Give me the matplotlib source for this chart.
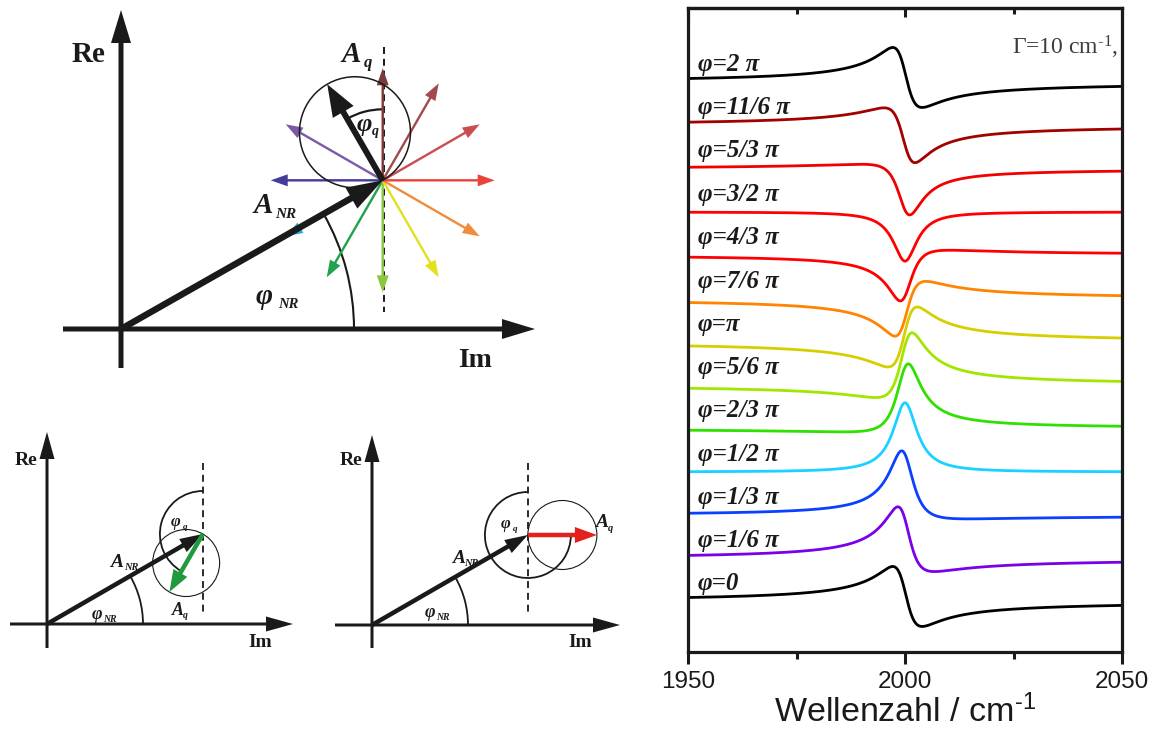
import numpy as np
import matplotlib
matplotlib.use("Agg")
import matplotlib.pyplot as plt
from matplotlib.patches import FancyArrow, Circle, Arc
from matplotlib.ticker import FixedLocator

plt.rcParams["mathtext.default"] = "regular"
plt.rcParams["lines.scale_dashes"] = False

# ---------------------------------------------------------------- spectra data
phase_over_pi = [0, 1/6, 1/3, 1/2, 2/3, 5/6, 1, 7/6, 4/3, 3/2, 5/3, 11/6, 2]
phase_labels = ["φ=0", "φ=1/6 π", "φ=1/3 π", "φ=1/2 π", "φ=2/3 π", "φ=5/6 π",
                "φ=π", "φ=7/6 π", "φ=4/3 π", "φ=3/2 π", "φ=5/3 π", "φ=11/6 π",
                "φ=2 π"]
curve_offsets = [50.5, 93, 136.5, 180, 223.5, 267, 310, 353, 397, 440, 483,
                 526.5, 569.5]
curve_colors = ["#000000", "#7a00ea", "#0a40ff", "#1ad2ff", "#30e000", "#a2e600",
                "#d6cf00", "#ff8400", "#ff0000", "#ff0000", "#f20000", "#a30000",
                "#000000"]

# resonance parameters (single Lorentzian mode on a non-resonant background)
center_cm = 2000.0
half_width_cm = 3.35
amp_nr = 1.0
amp_q = 0.34
intensity_scale = 87.0

wavenumber = np.linspace(1950, 2050, 2001)

# ---------------------------------------------------------------- phasor diagram data
vector_phase_deg = [0, 30, 60, 90, 120, 150, 180, 210, 240, 270, 300, 330]
vector_colors = ["#1a1a1a", "#7d5aa8", "#433c98", "#29abe2", "#22a24c", "#8cc63f",
                 "#e3e020", "#f08c3c", "#e8453a", "#c94e4c", "#a44a4f", "#7c3a3a"]
phase_nr_deg = 29.6
phase_q_offset_deg = 120  # direction of the phi=0 vector, counter-clockwise from Im

INK = "#1a1a1a"

fig = plt.figure(figsize=(11.56, 7.31), dpi=100)

# ================================================================ right: spectra
ax = fig.add_axes([688 / 1156, (731 - 652) / 731, (1122 - 688) / 1156, (652 - 8) / 731])
delta = center_cm - wavenumber
lorentz = half_width_cm / (delta - 1j * half_width_cm)
for ph, off, col in zip(phase_over_pi, curve_offsets, curve_colors):
    chi = amp_nr + amp_q * np.exp(-1j * ph * np.pi) * lorentz
    signal = intensity_scale * (np.abs(chi) ** 2 - amp_nr ** 2)
    ax.plot(wavenumber, off + signal, color=col, lw=2.0, solid_capstyle="butt")

for lab, off in zip(phase_labels, curve_offsets):
    ax.text(1952.3, off + 18, lab, family="Liberation Serif", weight="bold",
            style="italic", fontsize=18, color=INK, ha="left", va="center")

ax.text(2049.2, 605, "Γ=10 cm$^{\u20101}$,", family="Liberation Serif", fontsize=17,
        color="#3c3c3c", ha="right", va="center")

ax.set_xlim(1950, 2050)
ax.set_ylim(0, 644)
ax.set_yticks([])
ax.set_xticks([1950, 2000, 2050])
ax.xaxis.set_minor_locator(FixedLocator([1975, 2025]))
ax.tick_params(axis="x", which="major", direction="out", length=8.6, width=2.2,
               labelsize=17.5, pad=5, top=False, color=INK, labelcolor=INK)
ax.tick_params(axis="x", which="minor", direction="out", length=5, width=2.2,
               top=False, color=INK)
for lbl in ax.get_xticklabels():
    lbl.set_family("Liberation Sans")
for sp in ax.spines.values():
    sp.set_linewidth(2.3)
    sp.set_color(INK)

top = ax.secondary_xaxis("top")
top.set_xticks([1950, 2000, 2050])
top.xaxis.set_minor_locator(FixedLocator([1975, 2025]))
top.tick_params(axis="x", which="major", direction="in", length=6.5, width=2.2,
                labeltop=False, color=INK)
top.tick_params(axis="x", which="minor", direction="in", length=4.3, width=2.2,
                color=INK)
top.spines["top"].set_linewidth(2.3)
top.spines["top"].set_color(INK)

# x-axis title, placed by its baseline just above the lower figure edge
fig.text((688 + 1122) / 2 / 1156, 8.5 / 731, "Wellenzahl / cm$^{\u20101}$",
         family="Liberation Sans", fontsize=24.5, color=INK,
         ha="center", va="baseline")

# ================================================================ left: phasor diagrams
ax0 = fig.add_axes([0, 0, 680 / 1156, 1])
ax0.set_xlim(0, 680)
ax0.set_ylim(731, 0)
ax0.axis("off")


def arrow(x0, y0, ang_deg, length, width, head_w, head_l, color, z=3):
    a = np.deg2rad(ang_deg)
    dx, dy = length * np.cos(a), -length * np.sin(a)
    ax0.add_patch(FancyArrow(x0, y0, dx, dy, width=width, head_width=head_w,
                             head_length=head_l, length_includes_head=True,
                             color=color, lw=0, zorder=z))
    return x0 + dx, y0 + dy


def arrow_to(x0, y0, x1, y1, width, head_w, head_l, color, z=3):
    ax0.add_patch(FancyArrow(x0, y0, x1 - x0, y1 - y0, width=width, head_width=head_w,
                             head_length=head_l, length_includes_head=True,
                             color=color, lw=0, zorder=z))


def arc(cx, cy, r, start_deg, end_deg, lw):
    # screen angles counter-clockwise; y axis is inverted
    ax0.add_patch(Arc((cx, cy), 2 * r, 2 * r, theta1=-end_deg, theta2=-start_deg,
                      color=INK, lw=lw, zorder=2))


def label(x, y, main, sub, size, subsize, sx, sy, italic=True):
    if main:
        ax0.text(x, y, main, family="Liberation Serif", weight="bold",
                 style="italic" if italic else "normal", fontsize=size, color=INK,
                 ha="left", va="baseline")
    if sub:
        ax0.text(sx, sy, sub, family="Liberation Serif", weight="bold", style="italic",
                 fontsize=subsize, color=INK, ha="left", va="baseline")


# ---- large diagram
ox, oy = 121, 329
arrow_to(121, 368, 121, 10, 5, 20, 33, INK)
arrow_to(63, 329, 535, 329, 5, 20, 33, INK)
label(72, 62, "Re", None, 21, 0, 0, 0, italic=False)
label(458, 367, "Im", None, 20, 0, 0, 0, italic=False)

nr_len = 301
tx, ty = arrow(ox, oy, phase_nr_deg, nr_len, 6.5, 24, 36, INK, z=6)
arc(ox, oy, 233, 0, phase_nr_deg, 1.5)
label(256, 304, "φ", "NR", 21, 10.5, 278, 308)

ax0.plot([tx + 1, tx + 1], [47, 312], color=INK, lw=1.4, ls=(0, (5, 3.5)), zorder=2)

q_len = 111
for ph, col in zip(vector_phase_deg, vector_colors):
    ang = phase_q_offset_deg + ph
    if ph == 0:
        ex, ey = arrow(tx, ty, ang, q_len, 6, 24, 32, INK, z=7)
    else:
        arrow(tx, ty, ang, 112, 2.4, 12, 17, col, z=4)
ax0.add_patch(Circle(((tx + ex) / 2, (ty + ey) / 2), q_len / 2, fill=False,
                     ec=INK, lw=1.1, zorder=5))
arc(tx, ty, 71, 90, phase_q_offset_deg, 1.6)
label(357, 131, "φ", "q", 19, 10, 372, 135)
label(342, 62, "A", "q", 21, 12, 364, 67)
label(254, 213, "A", "NR", 21, 11, 275, 218)


# ---- small diagrams
def small_diagram(ox, oy, re_bottom, re_top, im_left, im_right, q_ang, q_len, q_col,
                  txt):
    arrow_to(ox, re_bottom, ox, re_top, 3, 15, 27, INK)
    arrow_to(im_left, oy, im_right, oy, 3, 15, 27, INK)
    tx, ty = arrow(ox, oy, 30, 180, 4.5, 15, 23, INK, z=5)
    arc(ox, oy, 96, 0, 30, 1.3)
    ax0.plot([tx, tx], [463, 615], color=INK, lw=1.3, ls=(0, (5, 3.5)), zorder=2)
    ex, ey = arrow(tx, ty, q_ang, q_len, 4.5, 16, 22, q_col, z=6)
    ax0.add_patch(Circle(((tx + ex) / 2, (ty + ey) / 2), q_len / 2, fill=False,
                         ec=INK, lw=0.8, zorder=3))
    arc(tx, ty, 43, 90, q_ang if q_ang > 90 else q_ang + 360, 1.3)
    for (x, y, m, s, sz, ssz, sx, sy, it) in txt:
        label(x, y, m, s, sz, ssz, sx, sy, italic=it)


small_diagram(47, 624, 648, 432, 10, 293, 240, 67, "#1f9a3e", [
    (15, 465, "Re", None, 14, 0, 0, 0, False),
    (248, 647, "Im", None, 14, 0, 0, 0, False),
    (110, 567, "A", "NR", 14, 7.5, 124, 570, True),
    (92, 619, "φ", "NR", 13, 7, 103, 622, True),
    (171, 526, "φ", "q", 12, 6.5, 183, 529, True),
    (172, 615, "A", "q", 13, 7, 183, 618, True),
])

small_diagram(372, 625, 648, 435, 335, 620, 0, 69, "#e3201b", [
    (340, 465, "Re", None, 14, 0, 0, 0, False),
    (568, 647, "Im", None, 14, 0, 0, 0, False),
    (452, 563, "A", "NR", 14, 7.5, 464, 566, True),
    (425, 617, "φ", "NR", 13, 7, 436, 620, True),
    (501, 528, "φ", "q", 12, 6.5, 513, 531, True),
    (595, 527, "A", "q", 14, 7.5, 608, 531, True),
])

fig.savefig("out.png", dpi=100)
